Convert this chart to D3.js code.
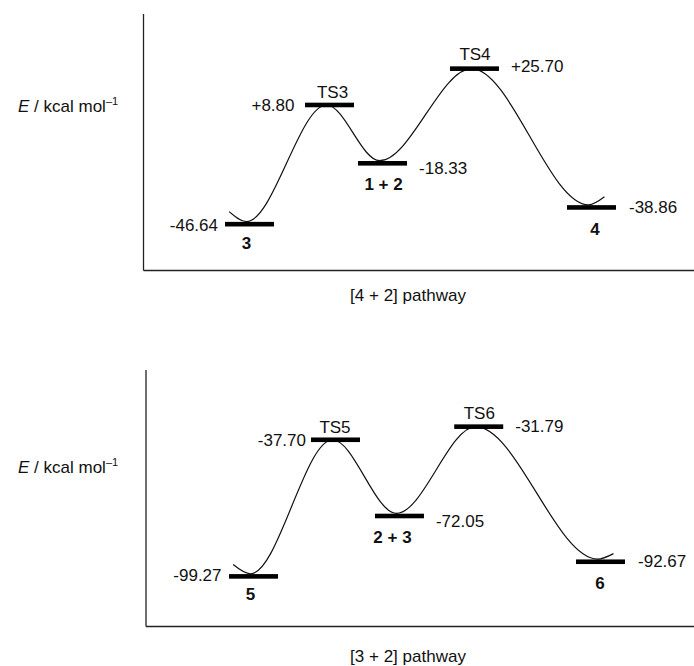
<!DOCTYPE html>
<html>
<head>
<meta charset="utf-8">
<script src="https://cdn.jsdelivr.net/npm/d3@7"></script>
<style>
  html, body { margin: 0; padding: 0; background: #fff; }
  text { font-family: Arial, "Liberation Sans", Helvetica, sans-serif; fill: #111; }
</style>
</head>
<body>
<svg id="chart" width="694" height="666"></svg>
<script>
// ---------- data ----------
// [4 + 2] pathway
const topSpecies = ["3", "TS3", "1 + 2", "TS4", "4"];
const topEnergy = [-46.64, 8.80, -18.33, 25.70, -38.86];
const topValueLabels = ["-46.64", "+8.80", "-18.33", "+25.70", "-38.86"];
const topRxnCoord = [35.95, 47.48, 55.12, 68.37, 85.23];
const topIsTS = [false, true, false, true, false];
const topTailEnergy = [-40.8, -33.9];   // curve ends beyond first/last minimum
const topTitle = "[4 + 2] pathway";

// [3 + 2] pathway
const botSpecies = ["5", "TS5", "2 + 3", "TS6", "6"];
const botEnergy = [-99.27, -37.70, -72.05, -31.79, -92.67];
const botValueLabels = ["-99.27", "-37.70", "-72.05", "-31.79", "-92.67"];
const botRxnCoord = [36.53, 48.34, 57.56, 68.98, 86.53];
const botIsTS = [false, true, false, true, false];
const botTailEnergy = [-93.9, -89.0];
const botTitle = "[3 + 2] pathway";

const tailRxnOffset = [-2.5, 2.3];

// ---------- layout ----------
const svg = d3.select("#chart");
const FS = 17;
const x = d3.scaleLinear().domain([0, 100]).range([0, 694]);

const panels = [
  {
    species: topSpecies, energy: topEnergy, labels: topValueLabels, rxn: topRxnCoord,
    isTS: topIsTS, tails: topTailEnergy, title: topTitle,
    y: d3.scaleLinear().domain([-60, 40]).range([252.9, 37.9]),
    axisX: 143.5, axisTop: 14, axisBottom: 270.5,
    yLabelBase: 111.5, titleBase: 301,
    valSide: ["left", "left", "right", "right", "right"],
    valGap: [7, 10.5, 12, 12, 13],
    valDy: [1, 0.5, 5, -3, -0.5],
    nameDx: [-3, 3, 1, 0.5, 3.5],
    nameDy: [19, -12.5, 21, -15, 22]
  },
  {
    species: botSpecies, energy: botEnergy, labels: botValueLabels, rxn: botRxnCoord,
    isTS: botIsTS, tails: botTailEnergy, title: botTitle,
    y: d3.scaleLinear().domain([-110, -20]).range([600.2, 400.5]),
    axisX: 146, axisTop: 370, axisBottom: 626.5,
    yLabelBase: 472.5, titleBase: 662,
    valSide: ["left", "left", "right", "right", "right"],
    valGap: [7.5, 5, 12, 12, 13],
    valDy: [-1, 0, 4.7, -1, -0.7],
    nameDx: [-3, -0.5, -7, 0.6, -0.5],
    nameDy: [17.7, -12.3, 20.7, -13.3, 21]
  }
];

const barHalf = 24.5;
const barH = 4.6;

panels.forEach(p => {
  const g = svg.append("g");

  // axes (left and bottom lines of the frame)
  g.append("line")
    .attr("x1", p.axisX).attr("x2", p.axisX)
    .attr("y1", p.axisTop).attr("y2", p.axisBottom)
    .attr("stroke", "#222").attr("stroke-width", 1.3);
  g.append("line")
    .attr("x1", p.axisX).attr("x2", 694)
    .attr("y1", p.axisBottom).attr("y2", p.axisBottom)
    .attr("stroke", "#222").attr("stroke-width", 1.3);

  // y-axis label
  const yl = g.append("text").attr("x", 18).attr("y", p.yLabelBase)
    .attr("font-size", FS);
  yl.append("tspan").attr("font-style", "italic").text("E");
  yl.append("tspan").text(" / kcal mol");
  yl.append("tspan").attr("font-size", 11).attr("dy", -7).text("\u20131");

  // title under the frame
  g.append("text").attr("x", 408).attr("y", p.titleBase)
    .attr("text-anchor", "middle").attr("font-size", FS).text(p.title);

  // energy profile curve
  const shift = -3; // curve extrema sit just left of bar centres
  const pts = [];
  const n = p.energy.length;
  pts.push([x(p.rxn[0] + tailRxnOffset[0]) + shift, p.y(p.tails[0])]);
  p.energy.forEach((e, i) => {
    pts.push([x(p.rxn[i]) + shift, p.y(e) + (p.isTS[i] ? 0 : -barH / 2 - 0.3)]);
  });
  pts.push([x(p.rxn[n - 1] + tailRxnOffset[1]) + shift, p.y(p.tails[1])]);

  g.append("path")
    .attr("d", d3.line().curve(d3.curveMonotoneX)(pts))
    .attr("fill", "none").attr("stroke", "#111").attr("stroke-width", 1.2);

  // energy level bars
  g.selectAll("rect.bar").data(p.energy).join("rect")
    .attr("class", "bar")
    .attr("x", (d, i) => x(p.rxn[i]) - barHalf)
    .attr("y", d => p.y(d) - barH / 2)
    .attr("width", barHalf * 2)
    .attr("height", barH)
    .attr("fill", "#000");

  // energy value labels
  g.selectAll("text.val").data(p.energy).join("text")
    .attr("class", "val")
    .attr("font-size", FS)
    .attr("text-anchor", (d, i) => p.valSide[i] === "left" ? "end" : "start")
    .attr("x", (d, i) => p.valSide[i] === "left"
      ? x(p.rxn[i]) - barHalf - p.valGap[i]
      : x(p.rxn[i]) + barHalf + p.valGap[i])
    .attr("y", (d, i) => p.y(d) + p.valDy[i])
    .attr("dy", "0.35em")
    .text((d, i) => p.labels[i]);

  // species names
  g.selectAll("text.name").data(p.species).join("text")
    .attr("class", "name")
    .attr("font-size", FS)
    .attr("font-weight", (d, i) => p.isTS[i] ? "normal" : "bold")
    .attr("text-anchor", "middle")
    .attr("x", (d, i) => x(p.rxn[i]) + p.nameDx[i])
    .attr("y", (d, i) => p.y(p.energy[i]) + p.nameDy[i])
    .attr("dy", "0.35em")
    .text(d => d);
});
</script>
</body>
</html>
